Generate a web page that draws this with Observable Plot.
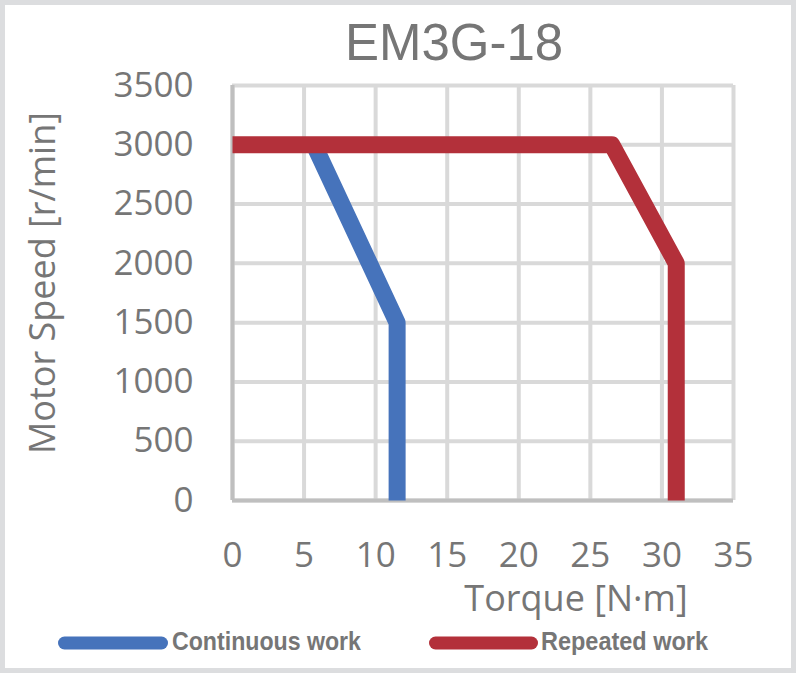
<!DOCTYPE html>
<html>
<head>
<meta charset="utf-8">
<script src="https://cdn.jsdelivr.net/npm/d3@7"></script>
<script src="https://cdn.jsdelivr.net/npm/@observablehq/plot@0.6"></script>
<style>
  html, body { margin: 0; padding: 0; background: #fff; }
  svg { display: block; }
</style>
</head>
<body>
<div id="chart"></div>
<script>
// ---- data ----
const chartTitle = "EM3G-18";
const xLabel = "Torque [N·m]";
const yLabel = "Motor Speed [r/min]";
const xTicks = [0, 5, 10, 15, 20, 25, 30, 35];
const yTicks = [0, 500, 1000, 1500, 2000, 2500, 3000, 3500];
const seriesNames = ["Continuous work", "Repeated work"];
const seriesColors = ["#4673bb", "#b3303a"];
const continuousTorque = [5.7, 11.5, 11.5];
const continuousSpeed = [3000, 1500, 0];
const repeatedTorque = [0, 26.5, 31, 31];
const repeatedSpeed = [3000, 3000, 2000, 0];

const continuous = continuousTorque.map((t, i) => ({torque: t, speed: continuousSpeed[i]}));
const repeated = repeatedTorque.map((t, i) => ({torque: t, speed: repeatedSpeed[i]}));

const W = 796, H = 673;
const textGray = "#767676";
const tickFont = "'Open Sans', 'DejaVu Sans', sans-serif";

const svg = Plot.plot({
  width: W,
  height: H,
  marginLeft: 232,
  marginRight: 63,
  marginTop: 85,
  marginBottom: 173,
  x: {domain: [0, 35], label: null},
  y: {domain: [0, 3500], label: null},
  style: {background: "#fff", fontFamily: tickFont, color: textGray, overflow: "visible"},
  marks: [
    Plot.gridX(xTicks, {stroke: "#d9d9d9", strokeOpacity: 1, strokeWidth: 4}),
    Plot.gridY(yTicks, {stroke: "#d9d9d9", strokeOpacity: 1, strokeWidth: 4}),
    Plot.ruleX([0], {stroke: "#bfbfbf", strokeWidth: 4}),
    Plot.ruleY([0], {stroke: "#bfbfbf", strokeWidth: 4, x1: 0, x2: 35}),
    Plot.axisX(xTicks, {tickSize: 0, tickPadding: 42, fontSize: 35, fill: textGray, label: null,
      tickFormat: d => String(d)}),
    Plot.axisY(yTicks, {tickSize: 0, tickPadding: 39, fontSize: 35, fill: textGray, label: null,
      tickFormat: d => String(d)}),
    Plot.line(continuous, {x: "torque", y: "speed", stroke: seriesColors[0], strokeWidth: 17,
      strokeLinejoin: "round", strokeLinecap: "butt"}),
    Plot.line(repeated, {x: "torque", y: "speed", stroke: seriesColors[1], strokeWidth: 17,
      strokeLinejoin: "round", strokeLinecap: "butt"})
  ]
});

const s = d3.select(svg);

// outer frame
s.append("rect")
  .attr("x", 2.5).attr("y", 2.5).attr("width", W - 5).attr("height", H - 5)
  .attr("fill", "none").attr("stroke", "#dcdddf").attr("stroke-width", 5);

// title
s.append("text")
  .attr("x", 454).attr("y", 60)
  .attr("text-anchor", "middle")
  .attr("font-family", "'Liberation Sans', Arial, sans-serif")
  .attr("font-size", 51)
  .attr("fill", textGray)
  .text(chartTitle);

// y label
s.append("text")
  .attr("transform", "translate(55,283) rotate(-90)")
  .attr("text-anchor", "middle")
  .attr("font-family", tickFont)
  .attr("font-size", 36)
  .attr("fill", textGray)
  .text(yLabel);

// x label
s.append("text")
  .attr("x", 576).attr("y", 611)
  .attr("text-anchor", "middle")
  .attr("font-family", tickFont)
  .attr("font-size", 36)
  .attr("fill", textGray)
  .text(xLabel);

// legend
const legendItems = [
  {x1: 58, x2: 168, tx: 172, tw: 189},
  {x1: 429, x2: 538, tx: 541, tw: 167}
];
legendItems.forEach((it, i) => {
  s.append("line")
    .attr("x1", it.x1 + 6.5).attr("x2", it.x2 - 6.5)
    .attr("y1", 643).attr("y2", 643)
    .attr("stroke", seriesColors[i]).attr("stroke-width", 13)
    .attr("stroke-linecap", "round");
  s.append("text")
    .attr("x", it.tx).attr("y", 650)
    .attr("text-anchor", "start")
    .attr("font-family", "'Liberation Sans Narrow', 'Liberation Sans', sans-serif")
    .attr("font-weight", "bold")
    .attr("font-size", 25)
    .attr("fill", textGray)
    .attr("textLength", it.tw)
    .attr("lengthAdjust", "spacingAndGlyphs")
    .text(seriesNames[i]);
});

document.getElementById("chart").appendChild(svg);
</script>
</body>
</html>
